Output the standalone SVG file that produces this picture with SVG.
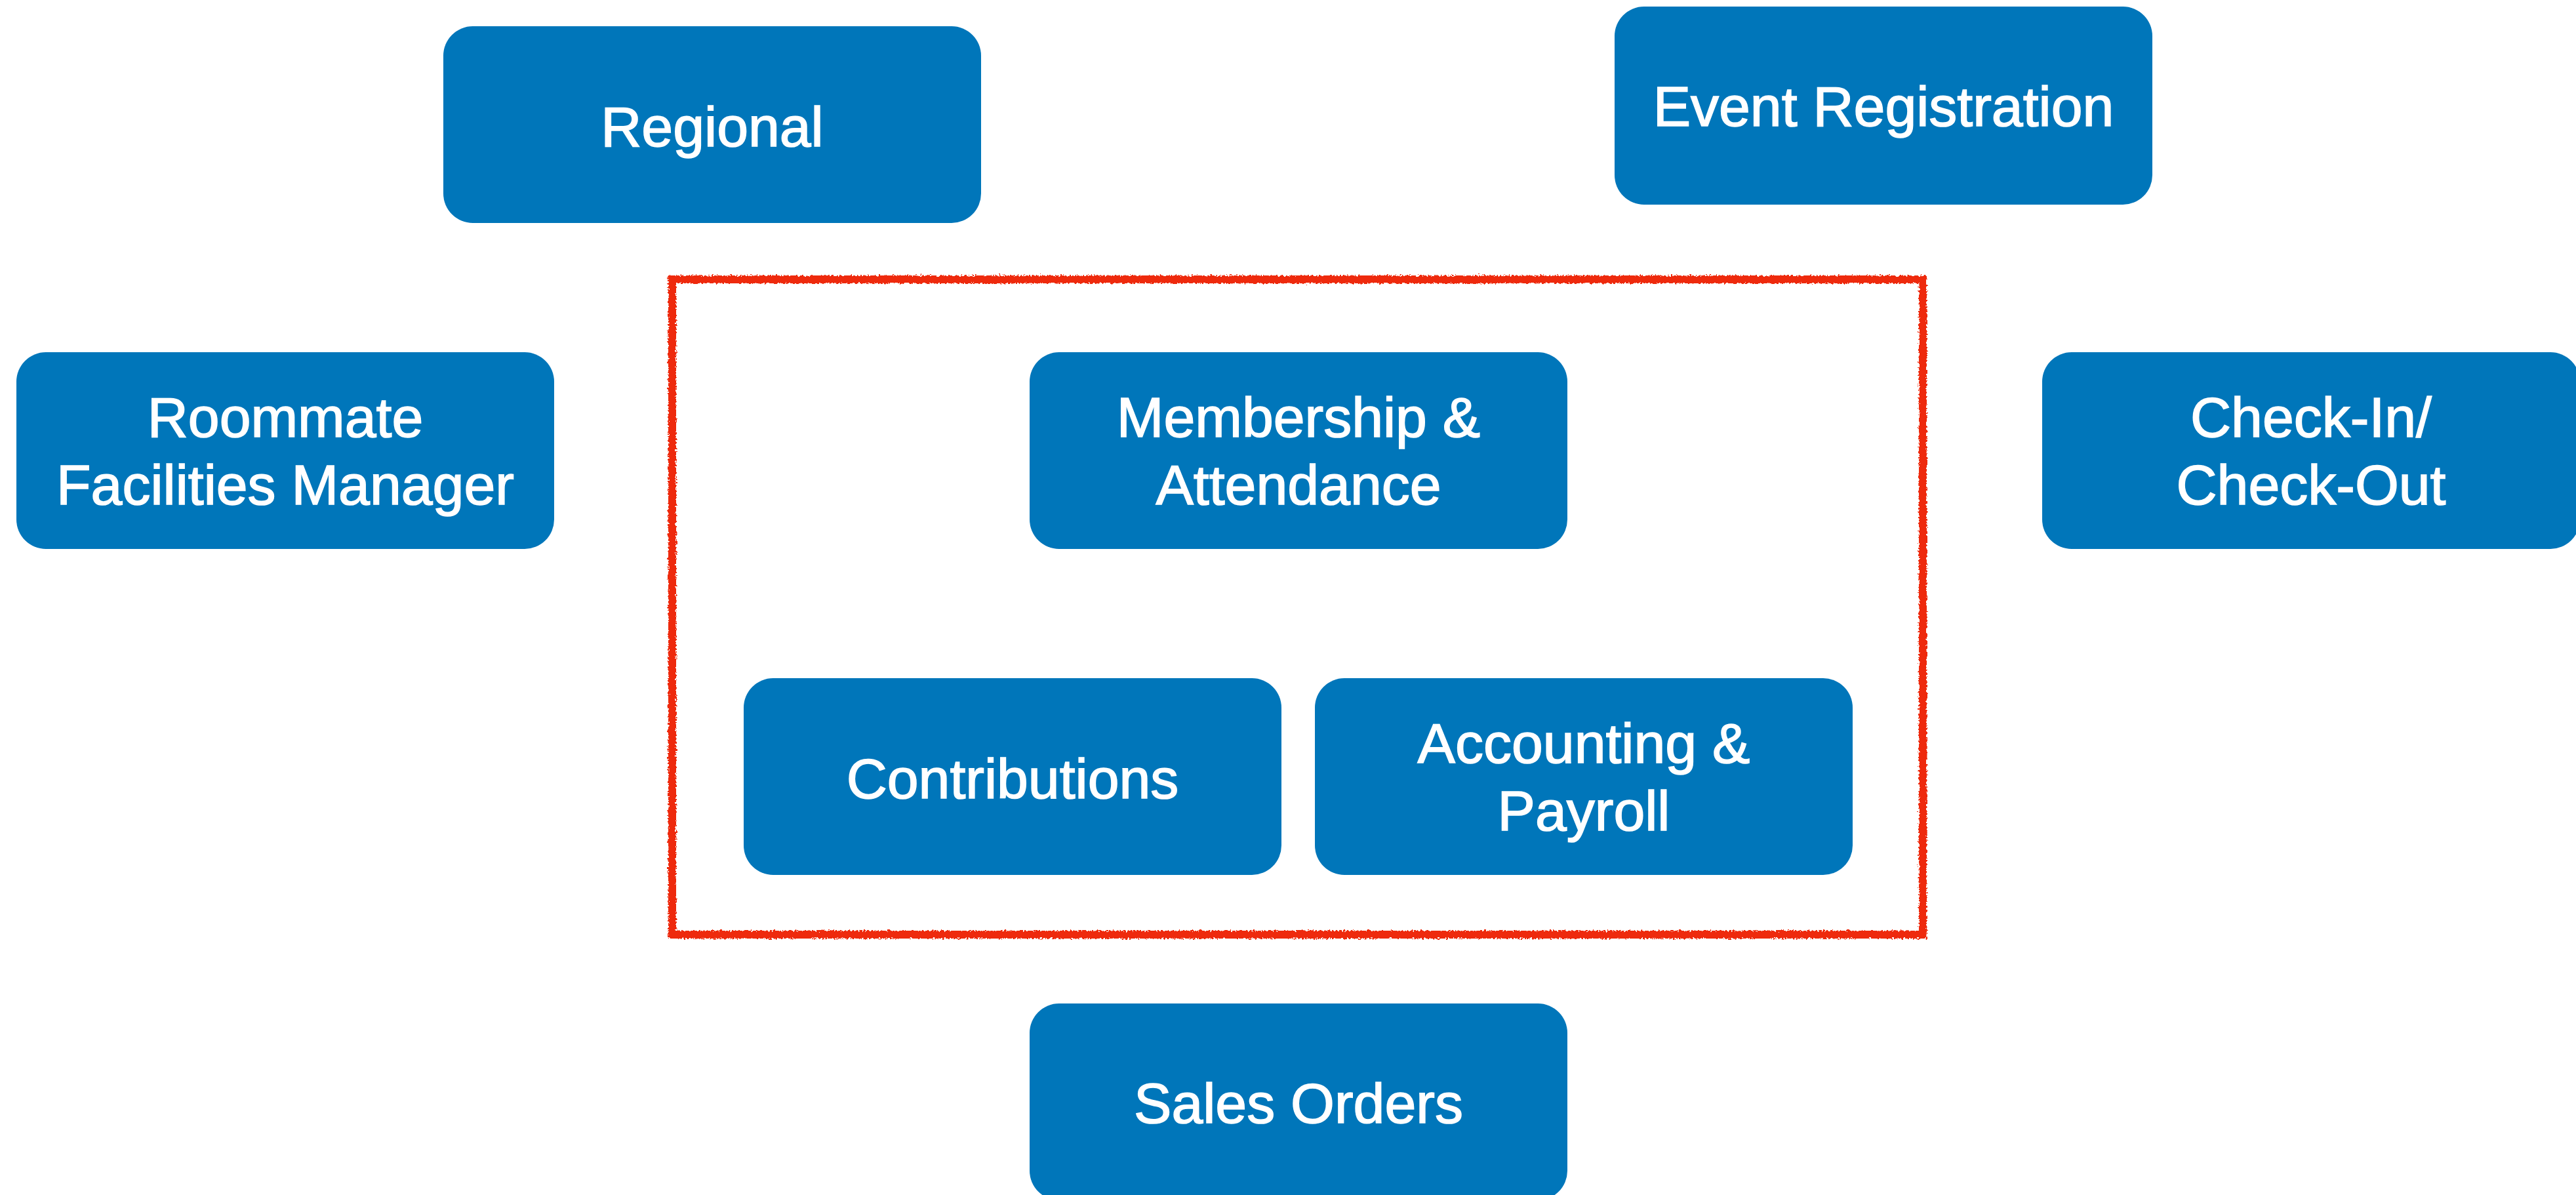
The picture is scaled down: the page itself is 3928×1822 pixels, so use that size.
<svg xmlns="http://www.w3.org/2000/svg" width="3928" height="1822" viewBox="0 0 3928 1822">
  <defs>
    <filter id="rough" x="-5%" y="-5%" width="110%" height="110%">
      <feTurbulence type="fractalNoise" baseFrequency="0.35" numOctaves="2" seed="3" result="n"/>
      <feDisplacementMap in="SourceGraphic" in2="n" scale="7" xChannelSelector="R" yChannelSelector="G"/>
    </filter>
  </defs>
  <style>
    .node rect { fill: #0076BA; }
    .node text { fill: #FFFFFF; stroke: #FFFFFF; stroke-width: 1.6; font-family: "Liberation Sans", Arial, sans-serif; font-size: 86px; text-anchor: middle; }
    .frame { fill: none; stroke: #EE2A10; stroke-width: 12; filter: url(#rough); }
  </style>
  <rect width="3928" height="1822" fill="#FFFFFF"/>
  <g id="frame">
    <rect class="frame" x="1025" y="426" width="1907" height="999"/>
  </g>
  <g id="regional" class="node">
    <rect x="676" y="40" width="820" height="300" rx="45"/>
    <text x="1086" y="223">Regional</text>
  </g>
  <g id="event-registration" class="node">
    <rect x="2462" y="10" width="820" height="302" rx="45"/>
    <text x="2872" y="192">Event Registration</text>
  </g>
  <g id="roommate" class="node">
    <rect x="25" y="537" width="820" height="300" rx="45"/>
    <text x="435" y="666">Roommate</text>
    <text x="435" y="769">Facilities Manager</text>
  </g>
  <g id="membership" class="node">
    <rect x="1570" y="537" width="820" height="300" rx="45"/>
    <text x="1980" y="666">Membership &amp;</text>
    <text x="1980" y="769">Attendance</text>
  </g>
  <g id="checkin" class="node">
    <rect x="3114" y="537" width="820" height="300" rx="45"/>
    <text x="3524" y="666">Check-In/</text>
    <text x="3524" y="769">Check-Out</text>
  </g>
  <g id="contributions" class="node">
    <rect x="1134" y="1034" width="820" height="300" rx="45"/>
    <text x="1544" y="1217">Contributions</text>
  </g>
  <g id="accounting" class="node">
    <rect x="2005" y="1034" width="820" height="300" rx="45"/>
    <text x="2415" y="1163">Accounting &amp;</text>
    <text x="2415" y="1266">Payroll</text>
  </g>
  <g id="sales-orders" class="node">
    <rect x="1570" y="1530" width="820" height="300" rx="45"/>
    <text x="1980" y="1712">Sales Orders</text>
  </g>
  <g id="connectors"/>
</svg>
